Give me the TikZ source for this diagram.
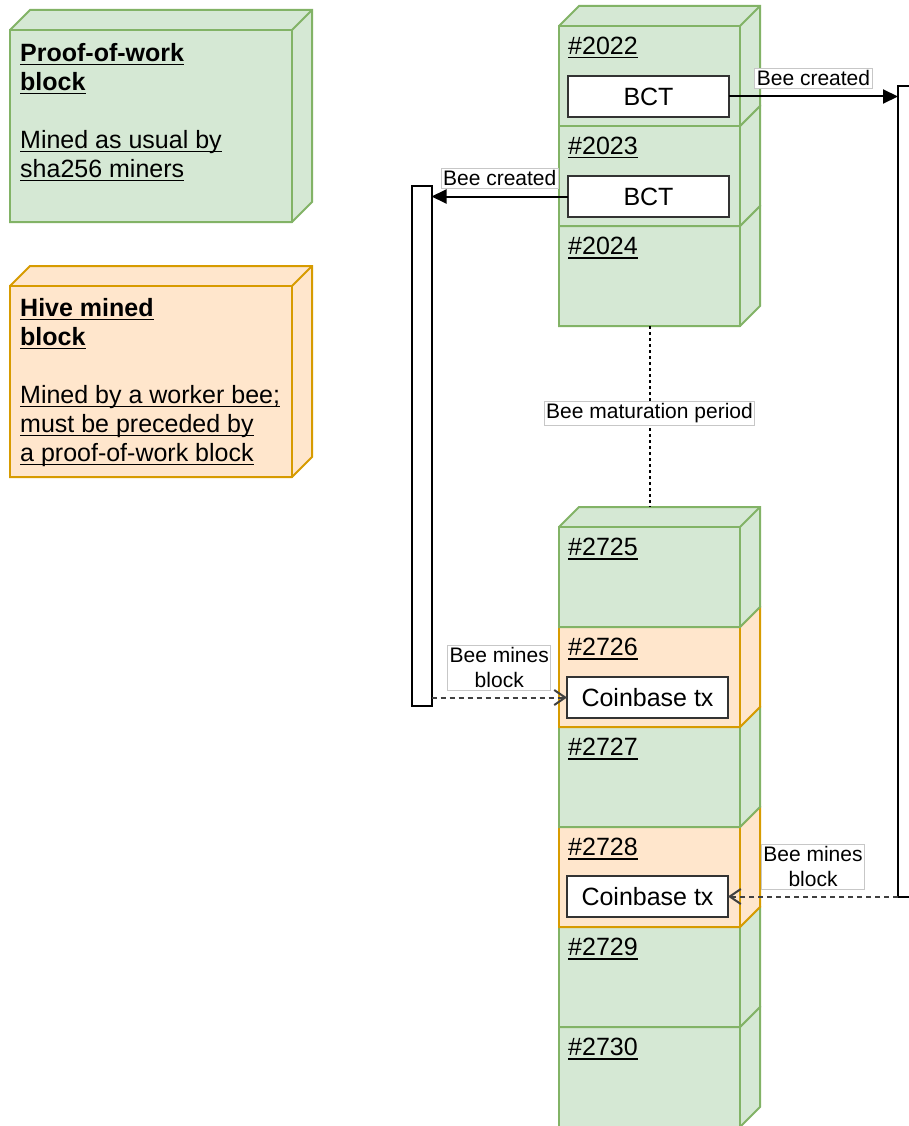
\documentclass[tikz,border=0pt]{standalone}
\usepackage{fontspec}
\setmainfont{Liberation Sans}
\usetikzlibrary{arrows.meta}

\definecolor{powfill}{HTML}{D5E8D4}
\definecolor{powline}{HTML}{82B366}
\definecolor{hivefill}{HTML}{FFE6CC}
\definecolor{hiveline}{HTML}{D79B00}

% a block drawn as a cube: style, name, front top-left, width, height
\newcommand{\cubeblock}[5]{%
  \filldraw[#1] #3 -- ++(20,-20) -- ++(#4,0) -- ++(0,#5) -- ++(-20,20) -- ++(-#4,0) -- cycle;
  \node[#1, face, minimum width=#4pt, minimum height=#5pt] (#2) at #3 {};
  \draw[#1] (#2.north east) -- ++(20,-20);
}
\newsavebox{\ulbox}
\newcommand{\ulin}[1]{\sbox{\ulbox}{#1}\rlap{\rule[-4pt]{\wd\ulbox}{1.6pt}}\usebox{\ulbox}}

\begin{document}
\begin{tikzpicture}[x=1pt, y=-1pt,
    pow/.style={draw=powline, fill=powfill, line width=2pt},
    hive/.style={draw=hiveline, fill=hivefill, line width=2pt},
    face/.style={anchor=north west, inner sep=0pt, outer sep=0pt},
    num/.style={anchor=base west, inner sep=0pt, font=\fontsize{25}{29}\selectfont},
    txbox/.style={draw=black!80, fill=white, line width=2pt, anchor=north west,
      minimum width=161pt, minimum height=41pt, inner sep=0pt, outer sep=0pt,
      font=\fontsize{25}{29}\selectfont},
    bar/.style={draw=black, fill=white, line width=2pt, anchor=north west,
      minimum width=20pt, inner sep=0pt, outer sep=0pt},
    lbl/.style={draw=black!22, fill=white, solid, line width=0.8pt, inner sep=2pt,
      align=center, font=\fontsize{21}{25}\selectfont},
    link/.style={draw=black, line width=2pt},
    mined/.style={draw=black!75, line width=2pt, dash pattern=on 5pt off 4pt},
    legend/.style={anchor=north west, inner sep=0pt, align=left,
      font=\fontsize{25}{29}\selectfont}]

    \path[use as bounding box, fill=white] (0,0) rectangle (908,1126);

    % legend
    \cubeblock{pow}{powkey}{(10,30)}{282}{192}
    \cubeblock{hive}{hivekey}{(10,286)}{282}{191}
    \node[legend] (powtext) at (20,43) {\ulin{\textbf{Proof-of-work}}\\ \ulin{\textbf{block}}\\[29pt]
      \ulin{Mined as usual by}\\ \ulin{sha256 miners}};
    \node[legend] (hivetext) at (20,298) {\ulin{\textbf{Hive mined}}\\ \ulin{\textbf{block}}\\[29pt]
      \ulin{Mined by a worker bee;}\\ \ulin{must be preceded by}\\ \ulin{a proof-of-work block}};

    % lower chain, drawn from the bottom up
    \cubeblock{pow}{b2730}{(559,1027)}{181}{100}
    \cubeblock{pow}{b2729}{(559,927)}{181}{100}
    \cubeblock{hive}{b2728}{(559,827)}{181}{100}
    \cubeblock{pow}{b2727}{(559,727)}{181}{100}
    \cubeblock{hive}{b2726}{(559,627)}{181}{100}
    \cubeblock{pow}{b2725}{(559,527)}{181}{100}

    % upper chain
    \cubeblock{pow}{b2024}{(559,226)}{181}{100}
    \cubeblock{pow}{b2023}{(559,126)}{181}{100}
    \cubeblock{pow}{b2022}{(559,26)}{181}{100}

    \node[num] (n2022) at ([shift={(9,28.5)}]b2022.north west) {\ulin{\#2022}};
    \node[num] (n2023) at ([shift={(9,28.5)}]b2023.north west) {\ulin{\#2023}};
    \node[num] (n2024) at ([shift={(9,28.5)}]b2024.north west) {\ulin{\#2024}};
    \node[num] (n2725) at ([shift={(9,28.5)}]b2725.north west) {\ulin{\#2725}};
    \node[num] (n2726) at ([shift={(9,28.5)}]b2726.north west) {\ulin{\#2726}};
    \node[num] (n2727) at ([shift={(9,28.5)}]b2727.north west) {\ulin{\#2727}};
    \node[num] (n2728) at ([shift={(9,28.5)}]b2728.north west) {\ulin{\#2728}};
    \node[num] (n2729) at ([shift={(9,28.5)}]b2729.north west) {\ulin{\#2729}};
    \node[num] (n2730) at ([shift={(9,28.5)}]b2730.north west) {\ulin{\#2730}};

    \node[txbox] (bct1) at ([shift={(9,50)}]b2022.north west) {BCT};
    \node[txbox] (bct2) at ([shift={(9,50)}]b2023.north west) {BCT};
    \node[txbox] (cb1) at ([shift={(8,50)}]b2726.north west) {Coinbase tx};
    \node[txbox] (cb2) at ([shift={(8,49)}]b2728.north west) {Coinbase tx};

    % bee lifelines
    \node[bar, minimum height=520pt] (barL) at (411.5,186) {};
    \node[bar, minimum height=811pt] (barR) at (898,86) {};

    \draw[link, -{Triangle[length=15pt, width=14pt]}] (bct1.east) -- (bct1.east -| barR.west)
        node[lbl, midway, above=8pt] {Bee created};
    \draw[link, -{Triangle[length=15pt, width=14pt]}] (bct2.west) -- (bct2.west -| barL.east)
        node[lbl, midway, above=8pt] {Bee created};
    \draw[mined, -{Straight Barb[length=11pt, width=15pt]}] (cb1.west -| barL.east) -- (cb1.west)
        node[lbl, midway, above=7pt] {Bee mines\\block};
    \draw[mined, -{Straight Barb[length=11pt, width=15pt]}] (cb2.east -| barR.west) -- (cb2.east)
        node[lbl, midway, above=7pt] {Bee mines\\block};

    \draw[link, dash pattern=on 3pt off 3pt] (b2024.south) -- ([yshift=20pt]b2725.north)
        node[lbl, midway, yshift=3pt] {Bee maturation period};

\end{tikzpicture}
\end{document}
